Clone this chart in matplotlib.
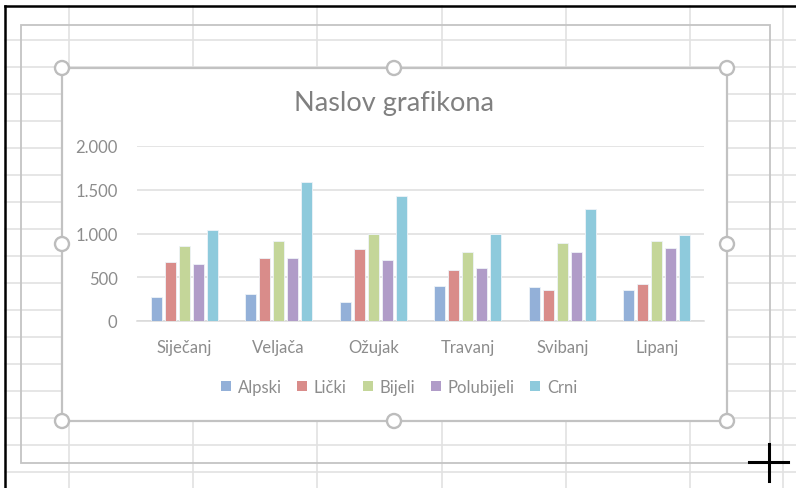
import matplotlib.pyplot as plt
import numpy as np
from matplotlib.patches import Rectangle, Circle, Patch

# Podaci po mjesecima
mjeseci = ["Siječanj", "Veljača", "Ožujak", "Travanj", "Svibanj", "Lipanj"]
serije = ["Alpski", "Lički", "Bijeli", "Polubijeli", "Crni"]
alpski = [280, 310, 220, 400, 385, 350]
licki = [675, 715, 825, 585, 350, 420]
bijeli = [855, 915, 1000, 785, 895, 915]
polubijeli = [655, 715, 695, 605, 785, 840]
crni = [1040, 1585, 1425, 1000, 1275, 985]
y_ticks = [0, 500, 1000, 1500, 2000]

boje = ["#93b0d8", "#d98c8a", "#c4d699", "#b09cc8", "#8ecadc"]
siva_tekst = "#8c8c8c"

W, H = 796, 489
fig = plt.figure(figsize=(W / 100, H / 100), dpi=100)
fig.patch.set_facecolor("white")

# Pozadina: mreža radnog lista, okvir grafikona i ručke
bg = fig.add_axes([0, 0, 1, 1])
bg.set_xlim(0, W)
bg.set_ylim(H, 0)
bg.axis("off")

for y in range(41, H, 27):
    bg.plot([5, W], [y, y], color="#e2e2e2", lw=1.2, zorder=1)
for x in [69, 193, 317, 442, 566, 690, 783]:
    bg.plot([x, x], [7, H], color="#e2e2e2", lw=1.2, zorder=1)

bg.add_patch(Rectangle((21, 26), 749, 438, fill=False, ec="#c4c4c4", lw=1.3, zorder=2))
bg.add_patch(Rectangle((62, 69), 665, 353, fc="white", ec="#c2c2c2", lw=1.6, zorder=3))

for hx, hy in [(62, 69), (394, 69), (727, 69), (62, 245), (727, 245),
               (62, 422), (394, 422), (727, 422)]:
    bg.add_patch(Circle((hx, hy), 7, fc="white", ec="#bdbdbd", lw=1.7, zorder=4))

# Crni rub prozora
bg.plot([5, 5], [7, H], color="black", lw=1.8, zorder=5)
bg.plot([5, W], [7, 7], color="black", lw=1.8, zorder=5)

# Kursor
bg.plot([749, 788], [463, 463], color="black", lw=2.2, zorder=6)
bg.plot([769, 769], [445, 482], color="black", lw=2.2, zorder=6)

# Naslov
bg.text(394, 104, "Naslov grafikona", ha="center", va="center",
        fontsize=19.5, color="#808080", family="Lato", zorder=6)

# Grafikon
ax = fig.add_axes([137 / W, (H - 322) / H, (704 - 137) / W, (322 - 147) / H])
ax.patch.set_visible(False)
ax.set_zorder(5)

x = np.arange(len(mjeseci))
korak = 0.149
sirina = 0.118
for i, (ime, vrijednosti) in enumerate(zip(serije, [alpski, licki, bijeli, polubijeli, crni])):
    ax.bar(x + (i - 2) * korak, vrijednosti, width=sirina, color=boje[i],
           edgecolor="#eef3f8", linewidth=0.6, label=ime, zorder=3)

ax.set_xlim(-0.5, len(mjeseci) - 0.5)
ax.set_ylim(0, 2000)
ax.set_yticks(y_ticks)
ax.set_yticklabels([f"{v:,}".replace(",", ".") for v in y_ticks])
ax.set_xticks(x)
ax.set_xticklabels(mjeseci)
ax.grid(axis="y", color="#dedede", lw=1.1, zorder=0)
ax.tick_params(length=0, labelcolor=siva_tekst, labelsize=12)
ax.tick_params(axis="x", pad=13)
ax.tick_params(axis="y", pad=14)
for lbl in ax.get_xticklabels() + ax.get_yticklabels():
    lbl.set_family("Lato")
for s in ["top", "right", "left"]:
    ax.spines[s].set_visible(False)
ax.spines["bottom"].set_color("#d9d9d9")
ax.spines["bottom"].set_linewidth(1.1)

rucke = [Patch(fc=boje[i], ec="none") for i in range(len(serije))]
leg = fig.legend(rucke, serije, loc="center", bbox_to_anchor=(399 / W, 1 - 388 / H),
                 ncol=5, frameon=False, handlelength=0.6, handleheight=0.6,
                 handletextpad=0.4, columnspacing=0.95,
                 prop={"family": "Lato", "size": 12})
for t in leg.get_texts():
    t.set_color(siva_tekst)

fig.savefig("out.png", dpi=100)
